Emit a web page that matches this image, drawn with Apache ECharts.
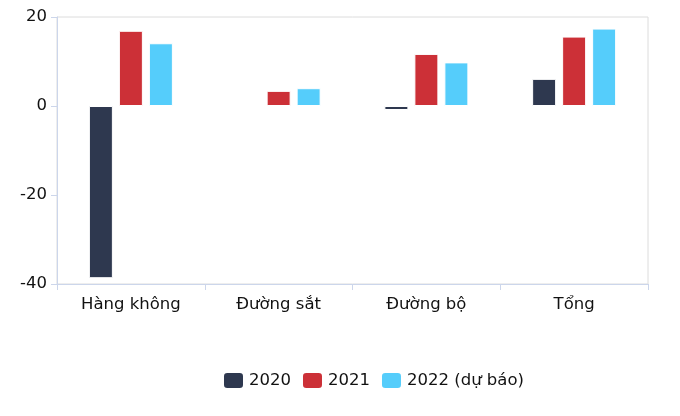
<!DOCTYPE html>
<html>
<head>
<meta charset="utf-8">
<script src="https://cdn.jsdelivr.net/npm/echarts@6/dist/echarts.min.js"></script>
<style>
  html, body { margin: 0; padding: 0; background: #fff; }
  #chart { width: 680px; height: 416px; }
</style>
</head>
<body>
<div id="chart"></div>
<script>
// loại hình vận tải
const categories = ['Hàng không', 'Đường sắt', 'Đường bộ', 'Tổng']
const seriesNames = ['2020', '2021', '2022 (dự báo)']
const values2020 = [-38.7, 0.1, -0.9, 6.1]
const values2021 = [16.9, 3.4, 11.7, 15.6]
const values2022 = [14.1, 4.0, 9.8, 17.4]
const colors = ['#2e384f', '#cc3037', '#55cdfb']

const chart = echarts.init(document.getElementById('chart'))

const makeBar = (name, data, color) => ({
  name: name,
  type: 'bar',
  barWidth: 24,
  barGap: '25%',
  itemStyle: {
    color: color,
    borderColor: '#fff',
    borderWidth: 1
  },
  data: data
})

chart.setOption({
  animation: false,
  textStyle: { fontFamily: 'DejaVu Sans' },
  grid: {
    left: 57,
    right: 32,
    top: 17,
    bottom: 132,
    show: true,
    borderColor: '#dcdcdc',
    borderWidth: 1
  },
  legend: {
    left: 217,
    top: 366,
    itemWidth: 21,
    itemHeight: 17,
    itemGap: 10,
    icon: 'roundRect',
    textStyle: { fontSize: 16.5, color: '#111', fontFamily: 'DejaVu Sans' },
    data: seriesNames
  },
  xAxis: {
    type: 'category',
    data: categories,
    axisLine: { onZero: false, lineStyle: { color: '#ccd6eb', width: 1 } },
    axisTick: { show: true, length: 6, lineStyle: { color: '#ccd6eb' } },
    axisLabel: { fontSize: 16.5, color: '#111', margin: 12 }
  },
  yAxis: {
    type: 'value',
    min: -40,
    max: 20,
    interval: 20,
    axisLine: { show: true, lineStyle: { color: '#ccd6eb', width: 1 } },
    axisTick: { show: true, length: 6, lineStyle: { color: '#ccd6eb' } },
    axisLabel: { fontSize: 16.5, color: '#111', margin: 10 },
    splitLine: { show: false }
  },
  series: [
    makeBar(seriesNames[0], values2020, colors[0]),
    makeBar(seriesNames[1], values2021, colors[1]),
    makeBar(seriesNames[2], values2022, colors[2])
  ]
})
</script>
</body>
</html>
